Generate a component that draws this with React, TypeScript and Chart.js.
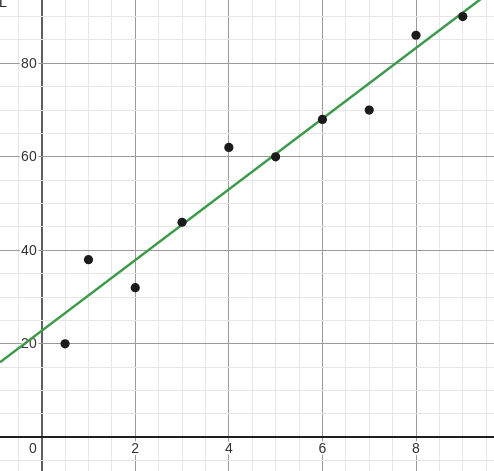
import { useEffect, useRef } from "react";
import { Chart, registerables } from "chart.js";

Chart.register(...registerables);

// ---- data ----
const xValues = [0.5, 1, 2, 3, 4, 5, 6, 7, 8, 9];
const yValues = [20, 38, 32, 46, 62, 60, 68, 70, 86, 90];
const xTickLabels = [2, 4, 6, 8];
const yTickLabels = [20, 40, 60, 80];
const originLabel = "0";
const cornerText = "L";
const xRange = [-0.891, 9.667];
const yRange = [-7.21, 93.54];
const xSteps = [0.5, 2]; // minor, major
const ySteps = [5, 20]; // minor, major

function regression(xs: number[], ys: number[]) {
  const n = xs.length;
  const mx = xs.reduce((a, b) => a + b, 0) / n;
  const my = ys.reduce((a, b) => a + b, 0) / n;
  let sxy = 0;
  let sxx = 0;
  for (let i = 0; i < n; i++) {
    sxy += (xs[i] - mx) * (ys[i] - my);
    sxx += (xs[i] - mx) * (xs[i] - mx);
  }
  const slope = sxy / sxx;
  return { slope, intercept: my - slope * mx };
}

function buildTicks(min: number, max: number, step: number) {
  const out: { value: number }[] = [];
  const start = Math.ceil(min / step);
  const end = Math.floor(max / step);
  for (let i = start; i <= end; i++) out.push({ value: +(i * step).toFixed(6) });
  return out;
}

function isMultiple(v: number, step: number) {
  const r = Math.abs(v / step - Math.round(v / step));
  return r < 1e-6;
}

const labelPlugin = {
  id: "axisLabels",
  beforeDatasetsDraw(chart: any) {
    const ctx = chart.ctx as CanvasRenderingContext2D;
    const xs = chart.scales.x;
    const ys = chart.scales.y;
    const x0 = xs.getPixelForValue(0);
    const y0 = ys.getPixelForValue(0);
    ctx.save();
    ctx.font = '14px Arial, "Liberation Sans", sans-serif';
    ctx.lineJoin = "round";
    ctx.lineWidth = 4;
    ctx.strokeStyle = "#ffffff";
    ctx.fillStyle = "#333333";
    const draw = (t: string, x: number, y: number, align: CanvasTextAlign) => {
      ctx.textAlign = align;
      ctx.textBaseline = "middle";
      ctx.strokeText(t, x, y);
      ctx.fillText(t, x, y);
    };
    xTickLabels.forEach((v) => draw(String(v), xs.getPixelForValue(v), y0 + 12, "center"));
    yTickLabels.forEach((v) => draw(String(v), x0 - 5, ys.getPixelForValue(v) + 0.5, "right"));
    draw(originLabel, x0 - 5, y0 + 12, "right");
    ctx.fillStyle = "#222222";
    ctx.textAlign = "left";
    ctx.textBaseline = "alphabetic";
    ctx.fillText(cornerText, -1, 7);
    ctx.restore();
  },
};

export default function App() {
  const ref = useRef<HTMLCanvasElement | null>(null);

  useEffect(() => {
    if (!ref.current) return;
    const { slope, intercept } = regression(xValues, yValues);
    const lineData = [xRange[0], xRange[1]].map((x) => ({ x, y: intercept + slope * x }));
    const points = xValues.map((x, i) => ({ x, y: yValues[i] }));

    const gridColor = (step: number[], axisColor: string) => (c: any) => {
      const v = c.tick?.value ?? 0;
      if (Math.abs(v) < 1e-9) return axisColor;
      if (isMultiple(v, step[1])) return "#9a9a9a";
      return "#e6e6e6";
    };
    const gridWidth = (c: any) => {
      const v = c.tick?.value ?? 0;
      return Math.abs(v) < 1e-9 ? 2 : 1;
    };

    const chart = new Chart(ref.current, {
      type: "scatter",
      data: {
        datasets: [
          {
            label: "points",
            data: points,
            pointRadius: 4.6,
            pointHoverRadius: 4.6,
            pointBackgroundColor: "#1b1b1b",
            pointBorderWidth: 0,
            showLine: false,
          },
          {
            label: "fit",
            data: lineData,
            showLine: true,
            borderColor: "#3d9a4b",
            borderWidth: 2.5,
            pointRadius: 0,
            fill: false,
          },
        ],
      },
      options: {
        animation: false,
        responsive: false,
        layout: { padding: 0, autoPadding: false },
        plugins: { legend: { display: false }, tooltip: { enabled: false } },
        events: [],
        scales: {
          x: {
            type: "linear",
            min: xRange[0],
            max: xRange[1],
            border: { display: false },
            ticks: { display: false },
            grid: { drawTicks: false, color: gridColor(xSteps, "#5e5e5e"), lineWidth: gridWidth },
            afterBuildTicks: (s: any) => {
              s.ticks = buildTicks(xRange[0], xRange[1], xSteps[0]);
            },
          },
          y: {
            type: "linear",
            min: yRange[0],
            max: yRange[1],
            border: { display: false },
            ticks: { display: false },
            grid: { drawTicks: false, color: gridColor(ySteps, "#1e1e1e"), lineWidth: gridWidth },
            afterBuildTicks: (s: any) => {
              s.ticks = buildTicks(yRange[0], yRange[1], ySteps[0]);
            },
          },
        },
      },
      plugins: [labelPlugin],
    });
    return () => chart.destroy();
  }, []);

  return (
    <div style={{ position: "absolute", left: 0, top: 0, width: 494, height: 471, background: "#fff" }}>
      <canvas ref={ref} width={494} height={471} style={{ display: "block" }} />
    </div>
  );
}
